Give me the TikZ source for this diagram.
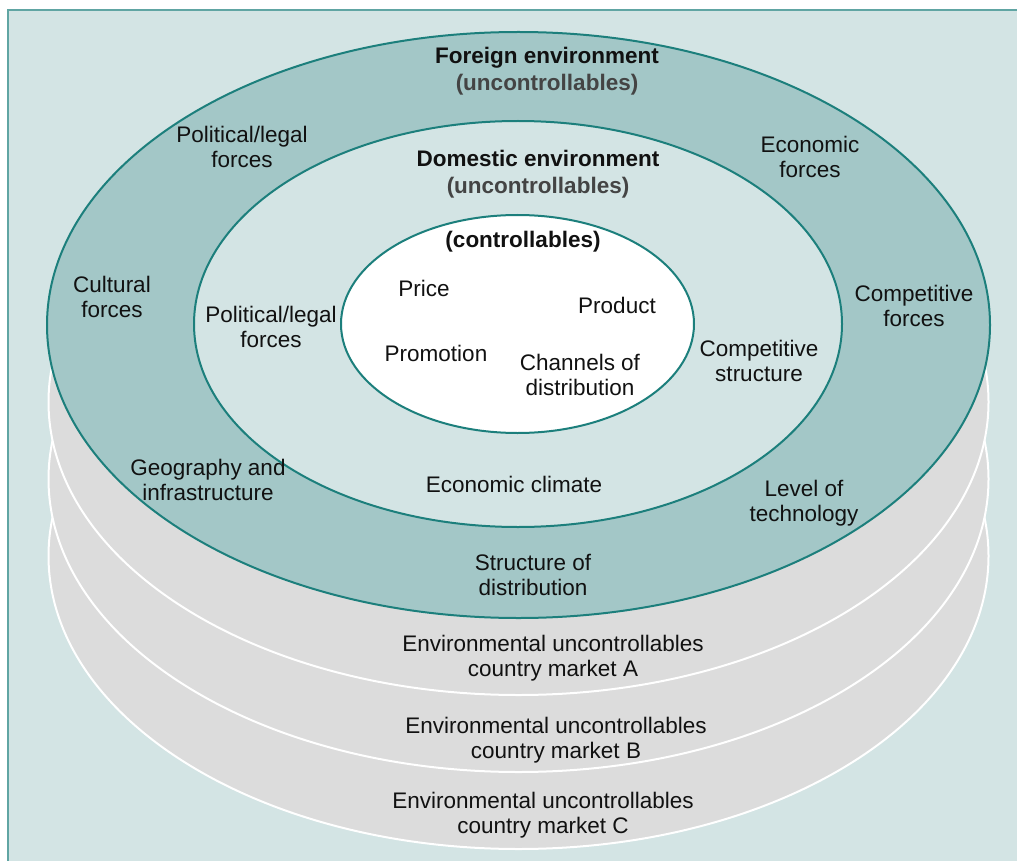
\documentclass[tikz,border=0pt]{standalone}
\usepackage{fontspec}
\setmainfont{Liberation Sans}
\definecolor{bgc}{HTML}{D3E4E4}
\definecolor{tealfill}{HTML}{A3C7C7}
\definecolor{tealline}{HTML}{1C7F7C}
\definecolor{grayfill}{HTML}{DCDCDC}
\definecolor{txt}{HTML}{111111}
\definecolor{subtxt}{HTML}{444444}
\begin{document}
\begin{tikzpicture}[x=1pt,y=-1pt,
  lbl/.style={inner sep=0pt, align=center, text=txt, font=\fontsize{22.5}{25}\selectfont},
  hdr/.style={lbl, font=\fontsize{22.5}{27.5}\selectfont\bfseries},
  market/.style={fill=grayfill, draw=white, line width=2pt},
  ring/.style={draw=tealline, line width=2pt}]
\useasboundingbox (0,0) rectangle (1017,861);
\clip (0,0) rectangle (1017,861);
\fill[white] (0,0) rectangle (1017,861);
\draw[fill=bgc, draw=tealline!70, line width=1.5pt] (8,10) rectangle (1040,900);
% stacked country markets: C, B, A
\draw[market] (518.5,556) ellipse [x radius=470pt, y radius=293pt];
\draw[market] (518.5,479) ellipse [x radius=470pt, y radius=293pt];
\draw[market] (518.5,402) ellipse [x radius=470pt, y radius=293pt];
% foreign
\draw[ring, fill=tealfill] (518.5,325) ellipse [x radius=471.5pt, y radius=293pt];
% domestic
\draw[ring, fill=bgc] (518,324) ellipse [x radius=324pt, y radius=203pt];
% controllables
\draw[ring, fill=white] (517.5,324) ellipse [x radius=176.5pt, y radius=109pt];
% labels
\node[hdr] (fe) at (547,71) {Foreign environment\\\textcolor{subtxt}{(uncontrollables)}};
\node[hdr] (de) at (538,174) {Domestic environment\\\textcolor{subtxt}{(uncontrollables)}};
\node[hdr] (co) at (523,242) {(controllables)};
\node[lbl] (price) at (424,288) {Price};
\node[lbl] (prod) at (617,305) {Product};
\node[lbl] (prom) at (436,353) {Promotion};
\node[lbl] (chan) at (580,375) {Channels of\\distribution};
\node[lbl] (pl1) at (242,147) {Political/legal\\forces};
\node[lbl] (eco) at (810,157) {Economic\\forces};
\node[lbl] (cul) at (112,297) {Cultural\\forces};
\node[lbl] (comp) at (914,306) {Competitive\\forces};
\node[lbl] (pl2) at (271,327) {Political/legal\\forces};
\node[lbl] (cst) at (759,361) {Competitive\\structure};
\node[lbl] (geo) at (208,480) {Geography and\\infrastructure};
\node[lbl] (ecl) at (514,484) {Economic climate};
\node[lbl] (tec) at (804,503) {Level of\\technology};
\node[lbl] (sod) at (533,575) {Structure of\\distribution};
\node[lbl] (ma) at (553,658) {Environmental uncontrollables\\country market A};
\node[lbl] (mb) at (556,740) {Environmental uncontrollables\\country market B};
\node[lbl] (mc) at (543,815) {Environmental uncontrollables\\country market C};
\end{tikzpicture}
\end{document}
